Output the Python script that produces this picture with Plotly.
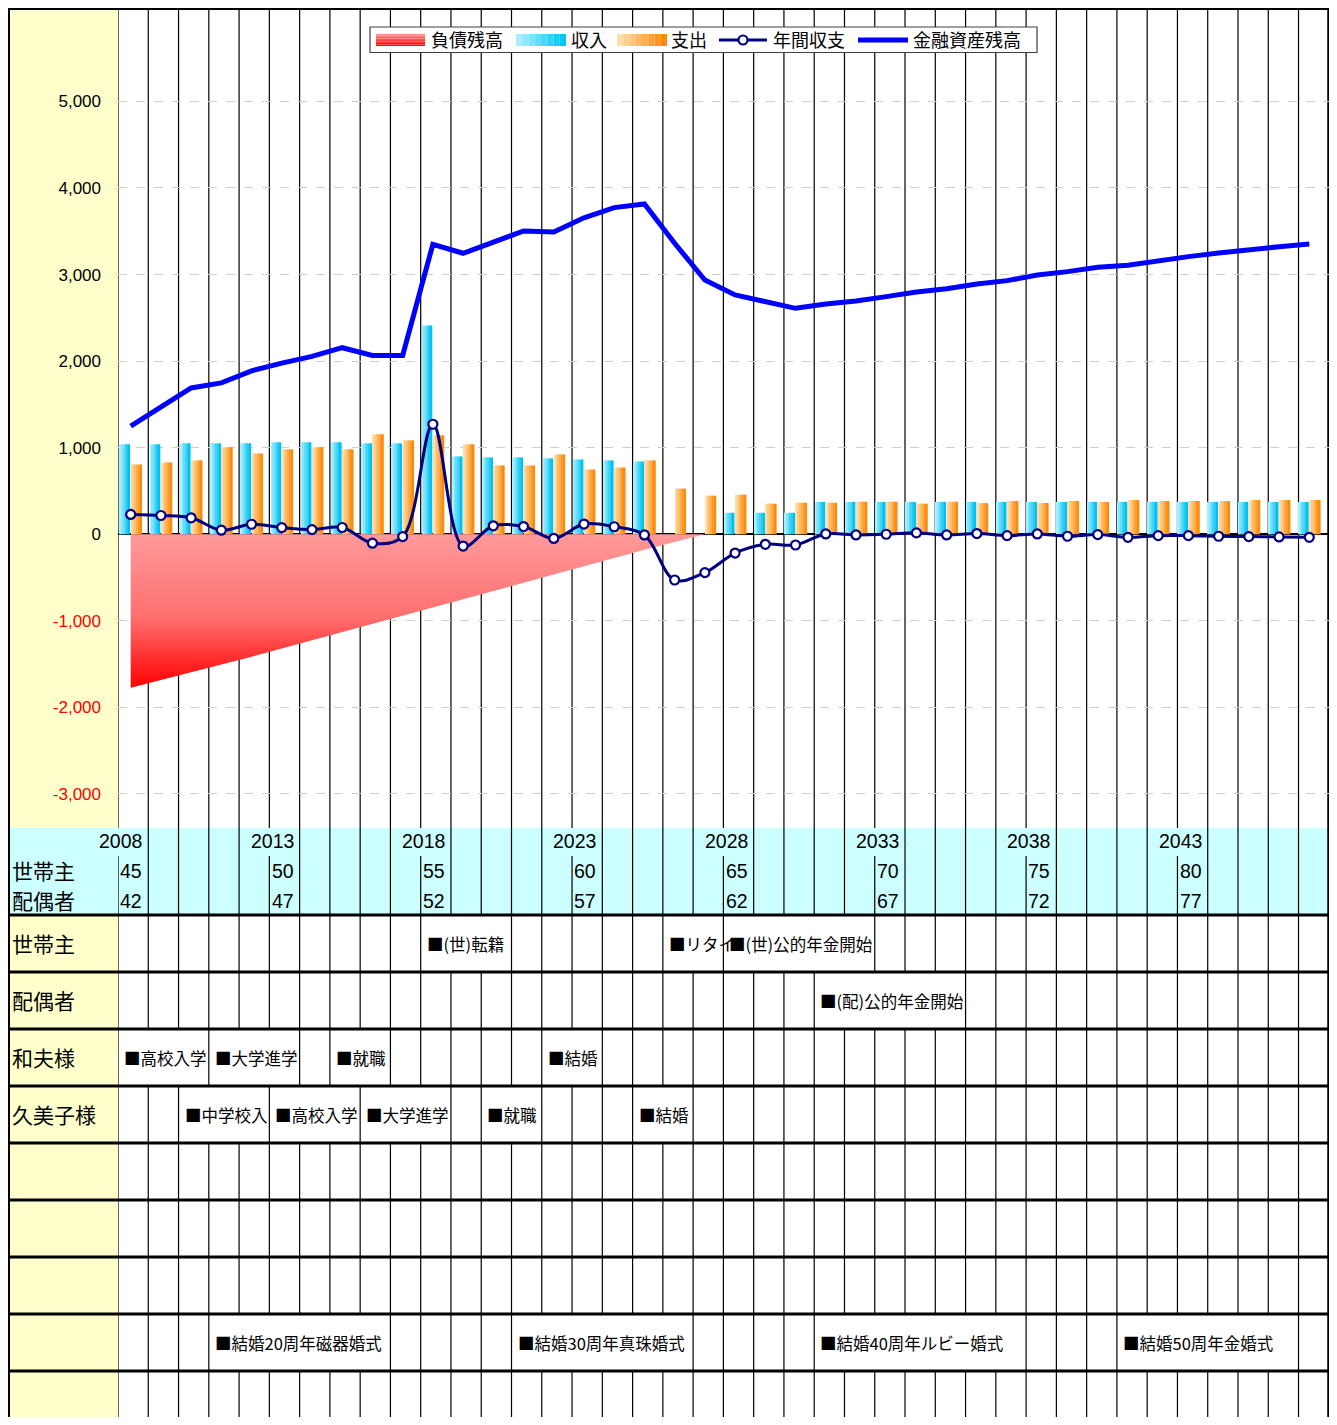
import math
import plotly.graph_objects as go

# ── Data ─────────────────────────────────────────────────────────────────────

years = list(range(2008, 2048))

debt = [-1772, -1685, -1595, -1505, -1415, -1320, -1225, -1130, -1035, -935,
        -840, -745, -650, -555, -460, -365, -270, -180, -90, 0,
        0, 0, 0, 0, 0, 0, 0, 0, 0, 0,
        0, 0, 0, 0, 0, 0, 0, 0, 0, 0]

income = [1039, 1039, 1050, 1050, 1050, 1062, 1062, 1062, 1050, 1050,
          2411, 899, 888, 888, 876, 864, 853, 841, 0, 0,
          248, 248, 248, 374, 374, 374, 374, 374, 374, 374,
          374, 374, 374, 374, 374, 374, 374, 374, 374, 374]

expense = [806, 829, 853, 1004, 934, 981, 1004, 981, 1155, 1085,
           1143, 1039, 795, 795, 922, 748, 771, 853, 527, 446,
           457, 353, 364, 364, 376, 376, 353, 376, 360, 384,
           360, 384, 372, 395, 384, 384, 384, 395, 395, 395]

net = [229, 217, 190, 47, 116, 77, 54, 78, -103, -27,
       1271, -136, 98, 89, -48, 118, 87, -8, -528, -443,
       -217, -116, -124, 4, -8, 0, 16, -8, 8, -16,
       4, -23, -4, -35, -16, -16, -23, -27, -31, -35]

assets = [1248, 1477, 1690, 1748, 1888, 1977, 2054, 2155, 2066, 2066,
          3350, 3246, 3380, 3503, 3492, 3656, 3773, 3815, 3361, 2937,
          2764, 2687, 2610, 2660, 2695, 2745, 2799, 2837, 2891, 2930,
          2995, 3034, 3084, 3107, 3161, 3207, 3249, 3292, 3322, 3353]

y_ticks = [-3000, -2000, -1000, 0, 1000, 2000, 3000, 4000, 5000]

band_years = [2008, 2013, 2018, 2023, 2028, 2033, 2038, 2043]
head_ages = [45, 50, 55, 60, 65, 70, 75, 80]
spouse_ages = [42, 47, 52, 57, 62, 67, 72, 77]

event_rows = [
    ("世帯主", [2018, 2026, 2028], ["■(世)転籍", "■リタイ", "■(世)公的年金開始"]),
    ("配偶者", [2031], ["■(配)公的年金開始"]),
    ("和夫様", [2008, 2011, 2015, 2022], ["■高校入学", "■大学進学", "■就職", "■結婚"]),
    ("久美子様", [2010, 2013, 2016, 2020, 2025],
     ["■中学校入", "■高校入学", "■大学進学", "■就職", "■結婚"]),
    ("", [], []),
    ("", [], []),
    ("", [], []),
    ("", [2011, 2021, 2031, 2041],
     ["■結婚20周年磁器婚式", "■結婚30周年真珠婚式", "■結婚40周年ルビー婚式", "■結婚50周年金婚式"]),
    ("", [], []),
]

legend_names = ["負債残高", "収入", "支出", "年間収支", "金融資産残高"]

# ── Page geometry (screen px, the page adds an 8 px body margin) ────────────

FW, FH = 1321, 1409
OX = OY = 8
COL_PX = 30.27
JP = "Noto Sans CJK JP"
NUM = "Liberation Sans, Arial"


def fx(p):
    return (p - OX) / FW


def fy(p):
    return 1 - (p - OY) / FH


def mix(c1, c2, t):
    a = [int(c1[i:i + 2], 16) for i in (1, 3, 5)]
    b = [int(c2[i:i + 2], 16) for i in (1, 3, 5)]
    return "#%02X%02X%02X" % tuple(round(x + (y - x) * t) for x, y in zip(a, b))


def text_px(s, size=16.5):
    w = 0.0
    for ch in s:
        if ch in "()":
            w += 0.36
        elif ord(ch) < 128:
            w += 0.5
        else:
            w += 1.0
    return w * size


fig = go.Figure()

# debt area
fig.add_trace(go.Scatter(
    x=years, y=debt, mode="lines", name=legend_names[0],
    line=dict(width=0, color="#FF0000"), fill="tozeroy",
    fillgradient=dict(type="vertical",
                      colorscale=[[0, "#FF0000"], [0.45, "#FF6E6E"], [1, "#FF9A9A"]]),
))


def gradient_bars(values, offset, width, c_from, c_to, name, n=6):
    for k in range(n):
        fig.add_trace(go.Bar(
            x=years, y=values, name=name,
            offset=offset + k * width / n, width=width / n,
            marker=dict(color=mix(c_from, c_to, k / (n - 1)), line=dict(width=0)),
        ))


gradient_bars(income, -0.355, 0.335, "#A8EFFF", "#00C2F2", legend_names[1])
gradient_bars(expense, 0.015, 0.36, "#FFDDA8", "#FF8A0A", legend_names[2])

fig.add_trace(go.Scatter(
    x=years, y=net, mode="lines+markers", name=legend_names[3],
    line=dict(color="#000080", width=3, shape="spline"),
    marker=dict(symbol="circle", size=9, color="white",
                line=dict(color="#000080", width=2.2)),
))
fig.add_trace(go.Scatter(
    x=years, y=assets, mode="lines", name=legend_names[4],
    line=dict(color="#0000FF", width=5),
))

# ── Spreadsheet-like table ─────────────────────────────────────────────────

shapes = [
    dict(type="rect", xref="paper", yref="paper", x0=fx(8), x1=fx(118),
         y0=fy(1430), y1=fy(8), fillcolor="#FFFFCC", line_width=0, layer="below"),
    dict(type="rect", xref="paper", yref="paper", x0=fx(8), x1=fx(1329),
         y0=fy(915), y1=fy(828), fillcolor="#CCFFFF", line_width=0, layer="below"),
]
annotations = []

# rows: (top, bottom, hidden boundaries)
rows = [(10, 828, set()),
        (828, 856, {y - 0.5 for y in band_years}),
        (856, 915, set())]

for r, (label, ev_years, ev_texts) in enumerate(event_rows):
    top = 915 + 57 * r
    bottom = min(top + 57, 1430)
    hidden = set()
    for j, (yr, txt) in enumerate(zip(ev_years, ev_texts)):
        span = math.ceil((5 + text_px(txt)) / COL_PX)
        if j + 1 < len(ev_years):
            span = min(span, ev_years[j + 1] - yr)
        hidden |= {yr - 0.5 + s for s in range(1, span)}
        annotations.append(dict(
            x=yr - 0.5, xref="x2", xshift=4, xanchor="left",
            y=fy(top + 29), yref="paper", yanchor="middle",
            text=txt, showarrow=False, font=dict(family=JP, size=16.5, color="black")))
    if label:
        annotations.append(dict(
            x=fx(10), xref="paper", xanchor="left", y=fy(top + 28), yref="paper",
            yanchor="middle", text=label, showarrow=False,
            font=dict(family=JP, size=21, color="black")))
    rows.append((top, bottom, hidden))

for k in range(40):
    b = 2007.5 + k
    seg = None
    for top, bottom, hidden in rows:
        if b in hidden:
            if seg:
                shapes.append(dict(type="line", xref="x2", yref="paper", x0=b, x1=b,
                                   y0=fy(seg[0]), y1=fy(seg[1]),
                                   line=dict(color="black", width=1.2), layer="below"))
            seg = None
        else:
            seg = (seg[0], bottom) if seg else (top, bottom)
    if seg:
        shapes.append(dict(type="line", xref="x2", yref="paper", x0=b, x1=b,
                           y0=fy(seg[0]), y1=fy(seg[1]),
                           line=dict(color="black", width=1.2), layer="below"))

for j in range(9):
    yy = 915 + 57 * j
    shapes.append(dict(type="line", xref="paper", yref="paper", x0=fx(8), x1=fx(1330),
                       y0=fy(yy), y1=fy(yy), line=dict(color="black", width=3), layer="below"))

# outer borders
shapes += [
    dict(type="line", xref="paper", yref="paper", x0=fx(7), x1=fx(1330), y0=fy(8.5), y1=fy(8.5),
         line=dict(color="black", width=3), layer="below"),
    dict(type="line", xref="paper", yref="paper", x0=fx(8.5), x1=fx(8.5), y0=fy(7), y1=fy(1430),
         line=dict(color="black", width=3), layer="below"),
    dict(type="line", xref="paper", yref="paper", x0=fx(1329), x1=fx(1329), y0=fy(7), y1=fy(1430),
         line=dict(color="black", width=3.5), layer="below"),
]

# band: years and ages
for yr, ha, sa in zip(band_years, head_ages, spouse_ages):
    for val, ypx in ((yr, 841), (ha, 871), (sa, 901)):
        annotations.append(dict(
            x=yr + 0.5, xref="x2", xshift=-4, xanchor="right",
            y=fy(ypx), yref="paper", yanchor="middle", text=str(val), showarrow=False,
            font=dict(family=NUM, size=19.5, color="black")))
for label, ypx in (("世帯主", 870), ("配偶者", 900)):
    annotations.append(dict(
        x=fx(10), xref="paper", xanchor="left", y=fy(ypx), yref="paper", yanchor="middle",
        text=label, showarrow=False, font=dict(family=JP, size=21, color="black")))

# ── Legend box ─────────────────────────────────────────────────────────────

shapes.append(dict(type="rect", xref="paper", yref="paper", x0=fx(370), x1=fx(1037),
                   y0=fy(52.5), y1=fy(27), fillcolor="white",
                   line=dict(color="#404040", width=1.2), layer="above"))
NS = 8
for k in range(NS):
    # red: vertical gradient
    shapes.append(dict(type="rect", xref="paper", yref="paper", x0=fx(376), x1=fx(425),
                       y0=fy(34 + 12 * (k + 1) / NS), y1=fy(34 + 12 * k / NS),
                       fillcolor=mix("#FF8C8C", "#FF0A0A", k / (NS - 1)), line_width=0,
                       layer="above"))
    # cyan / orange: horizontal gradient
    for x0, c1, c2 in ((516, "#A8EFFF", "#00C8F5"), (617, "#FFDDA8", "#FF8A0A")):
        shapes.append(dict(type="rect", xref="paper", yref="paper",
                           x0=fx(x0 + 50 * k / NS), x1=fx(x0 + 50 * (k + 1) / NS),
                           y0=fy(46), y1=fy(34),
                           fillcolor=mix(c1, c2, k / (NS - 1)), line_width=0, layer="above"))
shapes += [
    dict(type="line", xref="paper", yref="paper", x0=fx(719), x1=fx(767), y0=fy(40), y1=fy(40),
         line=dict(color="#000080", width=3), layer="above"),
    dict(type="circle", xref="paper", yref="paper", x0=fx(738.5), x1=fx(747.5),
         y0=fy(44.5), y1=fy(35.5), fillcolor="white",
         line=dict(color="#000080", width=2.2), layer="above"),
    dict(type="line", xref="paper", yref="paper", x0=fx(858), x1=fx(908), y0=fy(40), y1=fy(40),
         line=dict(color="#0000FF", width=5), layer="above"),
]
for name, xpx in zip(legend_names, (429, 569, 669, 771, 911)):
    annotations.append(dict(
        x=fx(xpx), xref="paper", xanchor="left", y=fy(39.5), yref="paper", yanchor="middle",
        text=name, showarrow=False, font=dict(family=JP, size=18, color="black")))

# ── Layout ─────────────────────────────────────────────────────────────────

tick_text = [f'<span style="color:#FF0000">-{abs(v):,}</span>' if v < 0 else f"{v:,}"
             for v in y_ticks]

fig.update_layout(
    width=FW, height=FH, autosize=False,
    margin=dict(l=0, r=0, t=0, b=0),
    paper_bgcolor="white", plot_bgcolor="rgba(0,0,0,0)",
    barmode="overlay", showlegend=False,
    xaxis=dict(domain=[fx(118), fx(1328.8)], range=[2007.58, 2047.646], visible=False),
    xaxis2=dict(domain=[fx(118), fx(1328.8)], range=[2007.5, 2047.5], overlaying="x",
                visible=False),
    yaxis=dict(domain=[fy(828), fy(10)], range=[-3393, 6056],
               tickvals=y_ticks, ticktext=tick_text, ticks="", ticklabelstandoff=16,
               tickfont=dict(family=NUM, size=17, color="black"),
               showgrid=True, gridcolor="#CFCFCF", griddash="dash", gridwidth=1,
               zeroline=True, zerolinecolor="black", zerolinewidth=1.5, showline=False),
    shapes=shapes,
    annotations=annotations,
)

fig.write_html("out.html")
